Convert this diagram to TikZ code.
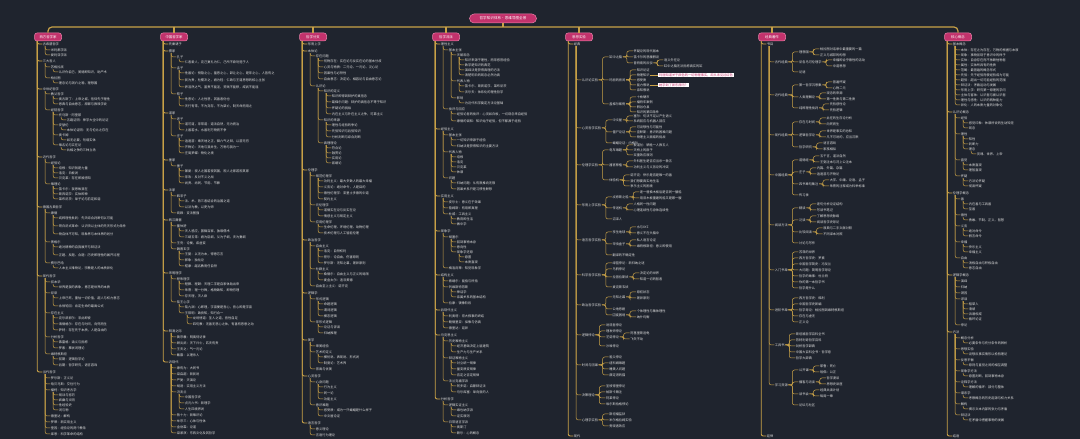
\documentclass[tikz,border=0pt]{standalone}
\usepackage{fontspec}
\setmainfont{Noto Sans CJK SC}
\usetikzlibrary{positioning,calc}
\definecolor{mmbg}{RGB}{31,36,46}
\definecolor{mmgold}{RGB}{201,162,72}
\definecolor{mmpink}{RGB}{194,50,108}
\definecolor{mmpinkline}{RGB}{235,130,170}
\definecolor{mmtext}{RGB}{222,222,222}

% one column of the map: #1 prefix, #2 header node, #3 outline depth, #4 level/y/text
\newcommand{\mindlist}[4]{%
  \xdef\mmA{#2}%
  \foreach \lv/\yy/\tx [count=\k] in {#4}{%
    \ifcase\lv\or\xdef\mmP{\mmA}\or\xdef\mmP{\mmB}\or\xdef\mmP{\mmC}\or\xdef\mmP{\mmD}\or\xdef\mmP{\mmE}\fi
    \ifnum\lv=1\relax\def\mmw{0.9bp}\else\def\mmw{0.5bp}\fi
    \coordinate (mmy) at (0,\yy);
    \ifnum\lv>#3\relax
      \path (\mmP.east) ++(10,0) coordinate (mmx);
      \node[leaf] (#1-\k) at (mmx |- mmy) {\tx};
      \draw[link, line width=\mmw] (\mmP.east) -- ++(4,0) |- (#1-\k.west);
    \else
      \path (\mmP.west) ++(8,0) coordinate (mmx);
      \node[leaf] (#1-\k) at (mmx |- mmy) {\tx};
      \draw[link, line width=\mmw] ([xshift=3]\mmP.south west) |- (#1-\k.west);
    \fi
    \ifcase\lv\or\xdef\mmB{#1-\k}\or\xdef\mmC{#1-\k}\or\xdef\mmD{#1-\k}\or\xdef\mmE{#1-\k}\or\xdef\mmF{#1-\k}\fi
  }%
}

\begin{document}
\begin{tikzpicture}[x=1bp, y=-1bp,
    rootbox/.style={rectangle, rounded corners=4.5bp, minimum width=67bp, minimum height=9bp,
      fill=mmpink, draw=mmpinkline, line width=0.5bp, text=white, inner sep=1bp,
      font=\fontsize{3.6bp}{4bp}\selectfont},
    head/.style={rectangle, rounded corners=2.5bp, minimum width=27bp, minimum height=8bp,
      fill=mmpink, draw=mmpinkline, line width=0.5bp, text=white, inner sep=1bp,
      font=\fontsize{3.4bp}{4bp}\selectfont},
    leaf/.style={anchor=west, inner sep=0.5bp, text=mmtext,
      font=\fontsize{3.2bp}{3.8bp}\selectfont},
    note/.style={anchor=west, fill=white, text=mmpink, inner sep=0.8bp,
      font=\fontsize{3.2bp}{3.8bp}\selectfont},
    link/.style={draw=mmgold, rounded corners=2bp},
    trunk/.style={draw=mmgold, line width=1.2bp, rounded corners=4bp}
  ]
    \fill[mmbg] (0,0) rectangle (1080,439);
    \useasboundingbox (0,0) rectangle (1080,439);
    % Root and headers
    \node[rootbox] (root) at (503,18.5) {哲学知识体系·思维导图全景};
    \node[head] (h1) at (48,37) {西方哲学家};
    \node[head] (h2) at (174,37) {中国哲学家};
    \node[head] (h3) at (313,37) {哲学分支};
    \node[head] (h4) at (446,37) {哲学流派};
    \node[head] (h5) at (579,37) {思想实验};
    \node[head] (h6) at (772,37) {经典著作};
    \node[head] (h7) at (958,37) {核心概念};
    % Bus
    \coordinate (bus) at (0,27);
    \draw[trunk] (h1.north) -- (h1.north |- bus) -- (h7.north |- bus) -- (h7.north);
    \draw[trunk] (root.south) -- (root.south |- bus);
    \foreach \h in {h2,h3,h4,h5,h6}{
      \draw[trunk] (\h.north) -- (\h.north |- bus);
    }
    % Column 1
    \mindlist{c1}{h1}{9}{
      1/44/古希腊哲学, 2/50/米利都学派, 2/55/爱利亚学派,
      1/61/三大哲人, 2/67/苏格拉底, 3/72/认识你自己，美德即知识，助产术,
      2/78/柏拉图, 3/83/理念论与洞穴之喻，理想国,
      1/89/中世纪哲学, 2/94/教父哲学, 3/99/奥古斯丁：上帝之城，信仰先于理性,
      3/104/恩典与自由意志，原罪与救赎学说, 2/110/经院哲学, 3/115/托马斯·阿奎那,
      4/120/五路证明：神学大全中的论证, 3/125/安瑟伦, 4/130/本体论证明：无与伦比之存在,
      3/135/奥卡姆, 4/140/如无必要，勿增实体, 3/145/唯名论与实在论, 4/150/共相之争的三种立场,
      1/157/近代哲学, 2/163/经验论, 3/168/培根：知识就是力量, 3/173/洛克：白板说,
      3/178/贝克莱：存在即被感知, 2/184/唯理论, 3/189/笛卡尔：我思故我在,
      3/194/斯宾诺莎：实体即神, 3/199/莱布尼茨：单子论与前定和谐,
      1/207/德国古典哲学, 2/213/康德, 3/218/纯粹理性批判：先天综合判断何以可能,
      3/226/哥白尼式革命：认识须以主体的先天形式为条件, 3/234/物自体不可知，现象界与本体界的划分,
      2/242/黑格尔, 3/247/绝对精神的自我展开与辩证法, 3/255/正题、反题、合题：历史即理性的展开过程,
      2/263/费尔巴哈, 3/268/人本主义唯物论，宗教是人的本质异化,
      1/276/现代哲学, 2/282/叔本华, 3/287/世界是我的表象，意志是世界的本质,
      2/293/尼采, 3/298/上帝已死，重估一切价值，超人与权力意志, 3/306/永恒轮回：肯定生命的最高公式,
      2/313/存在主义, 3/318/克尔凯郭尔：非此即彼, 3/324/海德格尔：存在与时间，向死而生,
      3/330/萨特：存在先于本质，人是自由的, 2/337/分析哲学, 3/342/弗雷格：涵义与指称,
      3/348/罗素：摹状词理论, 2/354/维特根斯坦, 3/359/前期：逻辑哲学论, 3/365/后期：哲学研究，语言游戏,
      1/372/当代哲学, 2/378/罗尔斯：正义论, 2/384/哈贝马斯：交往行为, 2/390/福柯：知识考古学,
      3/395/规训与惩罚, 3/400/疯癫与文明, 3/405/性经验史, 3/410/词与物,
      2/416/德里达：解构, 2/422/罗蒂：新实用主义, 2/428/奎因：经验论的两个教条, 2/434/库恩：科学革命的结构
    }
    % Column 2
    \mindlist{c2}{h2}{9}{
      1/44/先秦诸子, 1/51/儒家, 2/57/孔子, 3/62/仁者爱人，克己复礼为仁，己所不欲勿施于人,
      2/68/孟子, 3/73/性善论：恻隐之心，羞恶之心，辞让之心，是非之心，人皆有之,
      3/80/民为贵，社稷次之，君为轻：仁政与王道思想的核心主张, 3/87/养浩然之气，富贵不能淫，贫贱不能移，威武不能屈,
      2/94/荀子, 3/99/性恶论：人之性恶，其善者伪也, 3/106/天行有常，不为尧存，不为桀亡，制天命而用之,
      1/113/道家, 2/119/老子, 3/124/道可道，非常道：道法自然，无为而治, 3/130/上善若水，水善利万物而不争,
      2/136/庄子, 3/141/逍遥游：乘天地之正，御六气之辩，以游无穷, 3/147/齐物论：天地与我并生，万物与我为一,
      3/153/庄周梦蝶：物化之境,
      1/160/墨家, 2/166/墨子, 3/171/兼爱：视人之国若视其国，视人之家若视其家, 3/177/非攻：反对不义之战, 3/183/尚贤、尚同、节用、节葬,
      1/190/法家, 2/196/韩非子, 3/201/法、术、势三者结合的治国之道, 3/207/以法为教，以吏为师, 2/213/商鞅：变法图强,
      1/220/两汉魏晋, 2/226/董仲舒, 3/231/天人感应，罢黜百家，独尊儒术,
      3/237/三纲五常：君为臣纲，父为子纲，夫为妻纲, 2/243/王充：论衡，疾虚妄, 2/249/魏晋玄学,
      3/254/王弼：以无为本，得意忘言, 3/260/郭象：独化论, 3/266/嵇康：越名教而任自然,
      1/273/宋明理学, 2/279/程朱理学, 3/284/程颢、程颐：天理二字是自家体贴出来, 3/290/朱熹：理一分殊，格物致知，即物穷理,
      3/296/存天理，灭人欲, 2/302/陆王心学, 3/307/陆九渊：心即理，宇宙便是吾心，吾心即是宇宙, 3/313/王阳明：致良知，知行合一,
      4/318/龙场悟道：圣人之道，吾性自足, 4/324/四句教：无善无恶心之体，有善有恶意之动,
      1/331/明清之际, 2/337/黄宗羲：明夷待访录, 2/343/顾炎武：天下兴亡，匹夫有责, 2/349/王夫之：气一元论,
      2/355/戴震：以理杀人,
      1/362/近现代, 2/368/康有为：大同书, 2/374/梁启超：新民说, 2/380/严复：天演论, 2/386/胡适：实用主义方法,
      2/392/冯友兰, 3/397/中国哲学史, 3/403/贞元六书：新理学, 3/409/人生四境界说,
      2/415/熊十力：新唯识论, 2/421/牟宗三：心体与性体, 2/427/金岳霖：论道, 2/433/梁漱溟：东西文化及其哲学
    }
    % Column 3
    \mindlist{c3}{h3}{9}{
      1/44/形而上学, 1/51/本体论, 2/56/存在问题, 3/61/何物存在：实在论与反实在论的基本分歧,
      3/67/心灵与物质：二元论、一元论、泛心论, 3/73/因果性与必然性, 3/79/自由意志：决定论、相容论与自由意志论,
      2/86/认识论, 3/91/知识的定义, 4/96/知识即得到辩护的真信念, 4/102/葛梯尔问题：辩护的真信念不等于知识,
      4/108/怀疑论的挑战, 4/114/内在主义与外在主义之争，可靠主义,
      3/120/知识的来源, 4/125/理性与经验的争论, 4/131/先验知识与后验知识, 4/137/分析判断与综合判断,
      3/143/真理理论, 4/148/符合论, 4/153/融贯论, 4/158/实用论, 4/163/紧缩论,
      1/170/伦理学, 2/176/规范伦理学, 3/181/功利主义：最大多数人的最大幸福, 3/187/义务论：绝对命令，人是目的,
      3/193/德性伦理学：亚里士多德的中道, 3/199/契约主义, 2/205/元伦理学, 3/210/道德实在论与反实在论,
      3/216/情感主义与规定主义, 2/222/应用伦理学, 3/227/生命伦理、环境伦理、动物伦理, 3/233/技术伦理与人工智能伦理,
      1/240/政治哲学, 2/246/自由主义, 3/251/洛克：自然权利, 3/257/密尔：论自由，伤害原则,
      3/263/罗尔斯：无知之幕，差异原则, 2/269/社群主义, 3/274/桑德尔：自由主义与正义的局限,
      3/280/麦金太尔：追寻美德, 2/286/自由至上主义：诺齐克,
      1/293/逻辑学, 2/299/形式逻辑, 3/304/命题逻辑, 3/310/谓词逻辑, 3/316/模态逻辑,
      2/322/非形式逻辑, 3/327/论证与谬误, 3/333/归纳推理,
      1/340/美学, 2/346/审美经验, 2/352/艺术的定义, 3/357/模仿说、表现说、形式说, 3/363/制度论：艺术界, 2/369/崇高与优美,
      1/376/心灵哲学, 2/382/心身问题, 3/387/行为主义, 3/393/同一论, 3/399/功能主义,
      2/405/意识难题, 3/410/感受质：成为一只蝙蝠是什么样子, 3/416/中文屋论证,
      1/423/语言哲学, 2/429/意义理论, 2/435/言语行为理论
    }
    % Column 4
    \mindlist{c4}{h4}{9}{
      1/44/理性主义, 2/50/基本主张, 3/55/天赋观念, 4/60/知识来源于理性，而非感官经验, 4/65/数学是知识的典范,
      4/70/演绎法是获得真理的方法, 4/75/清楚明白的观念必然为真, 3/81/代表人物, 4/86/笛卡尔、斯宾诺莎、莱布尼茨,
      4/92/沃尔夫：体系化的理性哲学, 3/98/影响, 4/103/为近代科学奠定方法论基础,
      2/109/批评与回应, 3/114/经验论者的批评：心灵如白板，一切观念来自经验,
      3/121/康德的调和：知识始于经验，但不都源于经验,
      1/129/经验主义, 2/135/基本主张, 3/140/一切知识来源于经验, 3/146/归纳法是获得知识的主要方法,
      2/152/代表人物, 3/157/培根, 3/162/洛克, 3/167/贝克莱, 3/172/休谟,
      2/178/问题, 3/183/归纳问题：从有限推向无限, 3/189/因果关系只是习惯性联想,
      1/196/实用主义, 2/202/皮尔士：意义在于效果, 2/208/詹姆斯：有用即真理, 2/214/杜威：工具主义,
      3/219/教育即生活, 3/224/做中学,
      1/231/现象学, 2/237/胡塞尔, 3/242/回到事物本身, 3/247/意向性, 3/252/现象学还原,
      4/257/悬置, 4/262/本质直观, 2/268/梅洛庞蒂：知觉现象学,
      1/275/结构主义, 2/281/索绪尔：能指与所指, 2/287/列维斯特劳斯, 3/292/神话学, 3/297/亲属关系的基本结构,
      2/303/拉康：镜像阶段,
      1/310/后现代主义, 2/316/利奥塔：宏大叙事的终结, 2/322/鲍德里亚：拟像与仿真, 2/328/德里达：延异,
      1/335/马克思主义, 2/341/历史唯物主义, 3/346/经济基础决定上层建筑, 3/352/生产力与生产关系,
      2/358/辩证唯物主义, 3/363/对立统一规律, 3/369/量变质变规律, 3/375/否定之否定规律,
      2/381/法兰克福学派, 3/386/阿多诺：启蒙辩证法, 3/392/马尔库塞：单向度的人,
      1/399/分析哲学, 2/405/逻辑实证主义, 3/410/维也纳学派, 3/416/证实原则,
      2/422/日常语言学派, 3/427/奥斯汀, 3/433/赖尔：心的概念
    }
    % Column 5 (braces to the right)
    \mindlist{c5}{h5}{2}{
      1/44/经典, 2/80/认识论实验, 3/57/缸中之脑, 4/51/怀疑论的现代版本, 4/57/笛卡尔的恶魔假设,
      4/63/普特南的反驳, 5/60/语义外在论, 5/66/缸中之脑无法指称真实的缸,
      3/80/玛丽的房间, 4/70/知识论证, 4/75/物理知识, 4/80/感受质, 4/85/能力假说, 4/90/亲知假说,
      3/104/盖梯尔案例, 4/97/十枚硬币, 4/102/福特车案例, 4/107/假谷仓县, 4/112/知识的第四条件,
      2/128/心灵哲学实验, 3/120/中文屋, 4/116/塞尔：句法不足以产生语义, 4/121/系统回应与机器人回应,
      3/132/僵尸论证, 4/127/可设想性与可能性, 4/132/查默斯：意识的困难问题, 4/137/物理主义面临的挑战,
      3/143/蝙蝠论证：内格尔,
      2/165/伦理学实验, 3/150/电车难题, 4/145/扳道岔：牺牲一人救五人, 4/150/天桥上的胖子, 4/155/双重效应原则,
      3/165/器官移植, 4/161/外科医生是否应当杀一救五, 4/167/功利主义与义务论的冲突,
      3/180/体验机, 4/175/诺齐克：快乐是否是唯一的善, 4/181/我们想要真实地生活, 4/186/享乐主义的困境,
      2/205/形而上学实验, 3/197/忒修斯之船, 4/192/逐一替换木板后是否同一艘船, 4/198/用旧木板重建的船又是哪一艘,
      3/208/传送机, 4/204/人格同一性问题, 4/210/心理连续性与身体连续性, 3/219/沼泽人,
      2/240/语言哲学实验, 3/232/孪生地球, 4/227/水与XYZ, 4/233/意义不在头脑中,
      3/244/甲虫盒子, 4/240/私人语言论证, 4/246/维特根斯坦：意义即使用, 3/255/翻译的不确定性,
      2/275/科学哲学实验, 3/263/绿蓝悖论：新归纳之谜, 3/269/乌鸦悖论, 3/277/拉普拉斯妖,
      4/273/决定论的世界, 4/279/知道一切的智者, 3/287/麦克斯韦妖,
      2/305/政治哲学实验, 3/297/无知之幕, 4/292/原初状态, 4/298/差异原则, 3/309/公地悲剧,
      3/315/囚徒困境, 4/311/个体理性与集体理性, 4/317/纳什均衡,
      2/335/逻辑悖论, 3/325/说谎者悖论, 3/331/理发师悖论, 3/337/芝诺悖论, 4/333/阿基里斯追龟, 4/339/飞矢不动,
      3/346/沙堆悖论,
      2/365/时间与因果, 3/357/祖父悖论, 3/363/纽科姆难题, 3/369/睡美人问题, 3/375/薛定谔的猫,
      2/395/决策理论, 3/386/圣彼得堡悖论, 3/392/帕斯卡赌注, 3/398/阿莱悖论, 3/404/埃尔斯伯格悖论,
      2/420/心理学实验, 3/414/斯坦福监狱, 3/420/米尔格拉姆实验, 3/426/旁观者效应,
      1/436/现代
    }
    \node[note] (n1) at ([xshift=8]c5-11.east) {玛丽知道关于颜色的一切物理事实，却从未见过红色};
    \node[note] (n2) at ([xshift=8]c5-13.east) {她学到了新东西吗？};
    \draw[link, line width=0.5bp] (c5-11) -- (n1);
    \draw[link, line width=0.5bp] (c5-13) -- (n2);
    % Column 6 (braces to the right)
    \mindlist{c6}{h6}{2}{
      1/44/书目, 2/62/古代经典, 3/52/理想国, 4/49/柏拉图对话录中最重要的一篇, 4/55/正义与城邦的构想,
      3/62/尼各马可伦理学, 4/60/幸福即合乎德性的活动, 4/66/中道思想, 3/72/论语,
      2/95/近代经典, 3/85/第一哲学沉思集, 4/82/普遍怀疑, 4/88/心物二元,
      3/97/人类理解论, 4/93/观念的来源, 4/99/第一性质与第二性质,
      3/108/纯粹理性批判, 4/104/先验感性论, 4/110/先验逻辑,
      2/135/现代经典, 3/122/存在与时间, 4/118/此在的生存论分析, 4/124/向死而生,
      3/135/逻辑哲学论, 4/131/世界是事实的总和, 4/137/凡不可说的，应当沉默,
      3/147/哲学研究, 4/143/语言游戏, 4/149/家族相似,
      2/175/中国经典, 3/160/道德经, 4/156/五千言，道法自然, 4/162/王弼注本与河上公注本,
      3/172/庄子, 4/168/内篇、外篇、杂篇, 4/174/逍遥游与齐物论,
      3/184/四书章句集注, 4/180/大学、中庸、论语、孟子, 4/186/朱熹的注释成为科举标准, 3/195/传习录,
      2/225/阅读方法, 3/208/精读, 4/204/逐句分析论证结构, 4/210/写读书笔记,
      3/220/泛读, 4/216/了解思想史脉络, 4/222/阅读哲学史导论,
      3/232/比较阅读, 4/228/原典与二手文献对照, 4/234/不同译本对照, 3/243/讨论与写作,
      2/270/入门书单, 3/252/苏菲的世界, 3/258/西方哲学史：罗素, 3/264/中国哲学简史：冯友兰,
      3/270/大问题：简明哲学导论, 3/276/哲学的故事：杜兰特, 3/282/你的第一本哲学书, 3/288/哲学是什么,
      2/310/进阶书单, 3/298/西方哲学史：梯利, 3/304/中国哲学史新编, 3/310/哲学导论：柏拉图到维特根斯坦,
      3/316/存在与虚无, 3/322/正义论,
      2/345/工具书, 3/334/斯坦福哲学百科全书, 3/340/劳特利奇哲学百科, 3/346/剑桥哲学辞典,
      3/352/中国大百科全书·哲学卷, 3/358/哲学大辞典,
      2/385/学习资源, 3/370/公开课, 4/366/耶鲁：死亡, 4/372/哈佛：公正,
      3/382/播客与访谈, 4/378/哲学漫谈, 4/384/思想史讲座,
      3/394/读书会, 4/390/经典共读计划, 4/396/每周一章, 3/405/论坛与社区,
      1/436/延伸
    }
    % Column 7
    \mindlist{c7}{h7}{9}{
      1/44/基本概念, 2/50/本体：存在之为存在，万物的根据与本原, 2/55/现象：事物显现于意识中的样子,
      2/60/实体：自身存在而不依赖他物者, 2/65/属性：实体所具有的性质, 2/70/范畴：最普遍的概念形式,
      2/75/先验：先于经验而使经验成为可能, 2/80/超验：超出一切可能经验的范围, 2/85/辩证法：矛盾运动与发展,
      2/90/形而上学：研究第一原理的学问, 2/95/主体与客体：认识者与被认识者, 2/100/理性与感性：认识的两种能力,
      2/105/异化：人的本质力量的对象化,
      1/112/认识论概念, 2/118/经验, 3/123/感觉印象：休谟所说的生动知觉, 3/128/观念,
      2/134/理性, 3/139/知性, 3/144/判断力, 3/149/理念, 4/154/灵魂、世界、上帝,
      2/160/直觉, 3/165/本质直观, 3/170/理智直观, 2/176/怀疑, 3/181/方法论怀疑, 3/186/彻底怀疑,
      1/193/伦理学概念, 2/199/善, 3/204/内在善与工具善, 3/209/至善, 2/215/德性, 3/220/勇敢、节制、正义、智慧,
      2/226/义务, 3/231/绝对命令, 3/236/假言命令, 2/242/幸福, 3/247/快乐主义, 3/252/幸福主义,
      2/258/自由, 3/263/消极自由与积极自由, 3/268/意志自由,
      1/275/逻辑学概念, 2/281/演绎, 2/287/归纳, 2/293/溯因, 2/299/谬误, 3/304/稻草人, 3/309/滑坡,
      3/314/诉诸权威, 3/319/循环论证, 2/325/悖论,
      1/332/方法, 2/338/概念分析, 3/343/必要条件与充分条件的辨析, 2/349/思想实验, 3/354/设想反事实情形以检验理论,
      2/360/反思平衡, 3/365/原则与直觉之间的相互调整, 2/371/现象学方法, 3/376/悬置判断，回到事物本身,
      2/382/诠释学方法, 3/387/理解的循环：部分与整体, 2/393/谱系学, 3/398/考察概念的历史起源与权力关系,
      2/404/解构, 3/409/揭示文本内部的张力与矛盾, 2/415/辩证法, 3/420/在矛盾中把握事物的发展,
      1/436/结语
    }
\end{tikzpicture}
\end{document}
